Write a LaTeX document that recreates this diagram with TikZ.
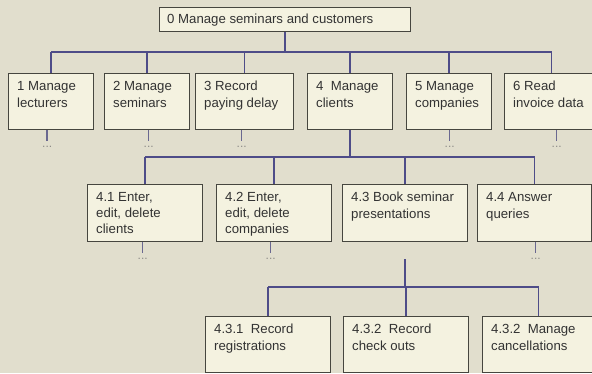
\documentclass[tikz,border=0pt]{standalone}
\usepackage{fontspec}
\setmainfont{Liberation Sans}
\definecolor{bgcol}{HTML}{E1DECD}
\definecolor{boxfill}{HTML}{F4F2E0}
\definecolor{boxline}{HTML}{46463F}
\definecolor{linkcol}{HTML}{4E4C88}
\definecolor{stubcol}{HTML}{6A6890}
\definecolor{textcol}{HTML}{333333}
\definecolor{dotcol}{HTML}{8E8C88}
\begin{document}
\begin{tikzpicture}[x=1pt,y=-1pt,
  box/.style={draw=boxline, fill=boxfill, line width=1.4pt, inner sep=0pt, anchor=north west},
  lbl/.style={anchor=north west, inner sep=0pt, align=left,
              font=\fontsize{13.2}{17}\selectfont, text=textcol},
  conn/.style={draw=linkcol, line width=1.5pt},
  stub/.style={draw=stubcol, line width=1.5pt},
  more/.style={text=dotcol, font=\fontsize{12}{12}\selectfont, inner sep=0pt, anchor=north}]
  % canvas
  \fill[bgcol] (0,0) rectangle (592,373);
  \clip (0,0) rectangle (592,373);

  % root
  \node[box, minimum width=251pt, minimum height=24pt] (top) at (159,7) {};
  \node[lbl, anchor=west] (ttop) at ([xshift=8]top.west) {0 Manage seminars and customers};

  % first level
  \node[box, minimum width=85pt, minimum height=56pt] (b1) at (8,73) {};
  \node[box, minimum width=85pt, minimum height=56pt] (b2) at (104,73) {};
  \node[box, minimum width=98pt, minimum height=56pt] (b3) at (195,73) {};
  \node[box, minimum width=85pt, minimum height=56pt] (b4) at (307,73) {};
  \node[box, minimum width=85pt, minimum height=56pt] (b5) at (406,73) {};
  \node[box, minimum width=94pt, minimum height=56pt] (b6) at (504,73) {};
  \node[lbl] (t1) at ([shift={(9,8)}]b1.north west) {1 Manage\\lecturers};
  \node[lbl] (t2) at ([shift={(9,8)}]b2.north west) {2 Manage\\seminars};
  \node[lbl] (t3) at ([shift={(9,8)}]b3.north west) {3 Record\\paying delay};
  \node[lbl] (t4) at ([shift={(9,8)}]b4.north west) {4~ Manage\\clients};
  \node[lbl] (t5) at ([shift={(9,8)}]b5.north west) {5 Manage\\companies};
  \node[lbl] (t6) at ([shift={(9,8)}]b6.north west) {6 Read\\invoice data};

  % second level
  \node[box, minimum width=115pt, minimum height=57pt] (b41) at (87,184) {};
  \node[box, minimum width=115pt, minimum height=57pt] (b42) at (216,184) {};
  \node[box, minimum width=125pt, minimum height=57pt] (b43) at (342,184) {};
  \node[box, minimum width=114pt, minimum height=57pt] (b44) at (477,184) {};
  \node[lbl, font=\fontsize{13.2}{16}\selectfont] (t41) at ([shift={(9,8)}]b41.north west) {4.1 Enter,\\edit, delete\\clients};
  \node[lbl, font=\fontsize{13.2}{16}\selectfont] (t42) at ([shift={(9,8)}]b42.north west) {4.2 Enter,\\edit, delete\\companies};
  \node[lbl] (t43) at ([shift={(9,8)}]b43.north west) {4.3 Book seminar\\presentations};
  \node[lbl] (t44) at ([shift={(9,8)}]b44.north west) {4.4 Answer\\queries};

  % third level
  \node[box, minimum width=125pt, minimum height=56pt] (b431) at (205,316) {};
  \node[box, minimum width=125pt, minimum height=56pt] (b432) at (343,316) {};
  \node[box, minimum width=112pt, minimum height=56pt] (b433) at (482,316) {};
  \node[lbl] (t431) at ([shift={(9,8)}]b431.north west) {4.3.1~ Record\\registrations};
  \node[lbl] (t432) at ([shift={(9,8)}]b432.north west) {4.3.2~ Record\\check outs};
  \node[lbl] (t433) at ([shift={(9,8)}]b433.north west) {4.3.2~ Manage\\cancellations};

  % bus lines
  \coordinate (bus1) at (0,52);
  \coordinate (bus2) at (0,157);
  \coordinate (bus3) at (0,287);
  \coordinate (c43) at ([yshift=-17pt]b43.south);

  \draw[conn] (top.south) -- (top.south |- bus1);
  \draw[conn] (b1.north |- bus1) -- (b6.north |- bus1);
  \foreach \b in {b1,b2,b3,b4,b5,b6}
    \draw[conn] (\b.north) -- (\b.north |- bus1);

  \draw[conn] (b4.south) -- (b4.south |- bus2);
  \draw[conn] (b41.north |- bus2) -- (b44.north |- bus2);
  \foreach \b in {b41,b42,b43,b44}
    \draw[conn] (\b.north) -- (\b.north |- bus2);

  \draw[conn] (c43) -- (c43 |- bus3);
  \draw[conn] (b431.north |- bus3) -- (b433.north |- bus3);
  \foreach \b in {b431,b432,b433}
    \draw[conn] (\b.north) -- (\b.north |- bus3);

  % collapsed sub-trees
  \foreach \b/\dx in {b1/-4,b2/1.5,b3/-3,b5/0.5,b6/5,b41/-2.5,b42/-3.5,b44/1}
    \draw[stub] ([xshift=\dx]\b.south) -- ++(0,11) node[more, yshift=-4pt] (m\b) {...};
\end{tikzpicture}
\end{document}
